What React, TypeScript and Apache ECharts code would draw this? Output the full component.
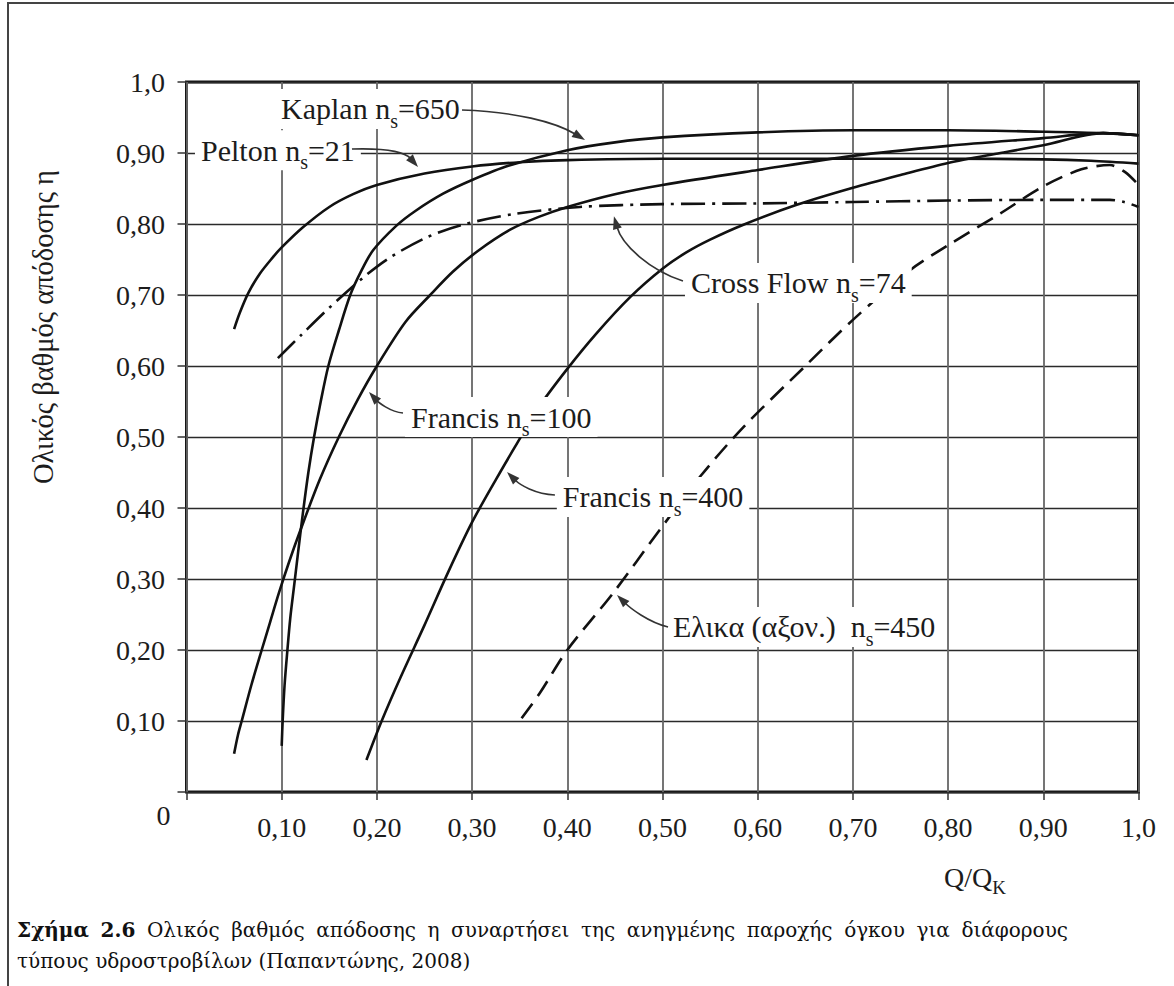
import React, { useEffect, useRef } from 'react';
import * as echarts from 'echarts';

// Axis ticks (Q/Qk on x, overall efficiency η on y)
const tickValues = [0, 0.1, 0.2, 0.3, 0.4, 0.5, 0.6, 0.7, 0.8, 0.9, 1.0];
const xTickLabels = ['', '0,10', '0,20', '0,30', '0,40', '0,50', '0,60', '0,70', '0,80', '0,90', '1,0'];
const yTickLabels = ['', '0,10', '0,20', '0,30', '0,40', '0,50', '0,60', '0,70', '0,80', '0,90', '1,0'];

// Efficiency curves [Q/Qk, η]
const pelton: [number, number][] = [
  [0.05, 0.652], [0.056, 0.675], [0.065, 0.703], [0.077, 0.73], [0.09, 0.752], [0.1, 0.767],
  [0.122, 0.795], [0.15, 0.824], [0.175, 0.842], [0.2, 0.855], [0.25, 0.871], [0.3, 0.881],
  [0.35, 0.887], [0.4, 0.89], [0.5, 0.892], [0.6, 0.892], [0.7, 0.892], [0.8, 0.892],
  [0.9, 0.891], [0.95, 0.889], [1.0, 0.885],
];
const kaplan: [number, number][] = [
  [0.1, 0.065], [0.101, 0.1], [0.103, 0.15], [0.106, 0.2], [0.109, 0.245], [0.113, 0.29],
  [0.117, 0.335], [0.122, 0.39], [0.128, 0.45], [0.134, 0.5], [0.141, 0.55], [0.149, 0.6],
  [0.16, 0.65], [0.172, 0.7], [0.184, 0.735], [0.196, 0.763], [0.22, 0.797], [0.24, 0.818],
  [0.27, 0.843], [0.3, 0.862], [0.338, 0.882], [0.4, 0.904], [0.45, 0.915], [0.5, 0.922],
  [0.6, 0.929], [0.7, 0.932], [0.8, 0.932], [0.9, 0.93], [0.963, 0.928], [1.0, 0.925],
];
const francis100: [number, number][] = [
  [0.05, 0.054], [0.054, 0.08], [0.058, 0.1], [0.068, 0.15], [0.079, 0.2], [0.088, 0.24],
  [0.097, 0.28], [0.108, 0.325], [0.12, 0.37], [0.14, 0.44], [0.16, 0.5], [0.18, 0.553],
  [0.2, 0.6], [0.23, 0.662], [0.256, 0.7], [0.28, 0.733], [0.306, 0.762], [0.34, 0.792],
  [0.37, 0.81], [0.4, 0.824], [0.45, 0.842], [0.5, 0.855], [0.6, 0.876], [0.7, 0.896],
  [0.8, 0.91], [0.9, 0.921], [0.963, 0.928], [1.0, 0.925],
];
const francis400: [number, number][] = [
  [0.189, 0.045], [0.205, 0.1], [0.225, 0.162], [0.25, 0.235], [0.275, 0.31], [0.3, 0.38],
  [0.325, 0.44], [0.345, 0.486], [0.37, 0.542], [0.4, 0.596], [0.43, 0.645], [0.466, 0.697],
  [0.5, 0.737], [0.525, 0.76], [0.55, 0.778], [0.585, 0.799], [0.641, 0.827], [0.7, 0.851],
  [0.75, 0.869], [0.8, 0.886], [0.855, 0.9], [0.9, 0.911], [0.963, 0.928], [1.0, 0.925],
];
const crossFlow: [number, number][] = [
  [0.096, 0.611], [0.12, 0.643], [0.15, 0.682], [0.186, 0.725], [0.214, 0.753], [0.252, 0.781],
  [0.29, 0.799], [0.344, 0.814], [0.413, 0.824], [0.5, 0.828], [0.6, 0.829], [0.7, 0.831],
  [0.8, 0.833], [0.9, 0.834], [0.97, 0.834], [0.985, 0.831], [1.0, 0.824],
];
const propeller: [number, number][] = [
  [0.352, 0.104], [0.371, 0.139], [0.4, 0.2], [0.448, 0.28], [0.497, 0.369], [0.54, 0.445],
  [0.585, 0.514], [0.65, 0.6], [0.7, 0.665], [0.76, 0.735], [0.8, 0.77], [0.855, 0.815],
  [0.9, 0.853], [0.94, 0.877], [0.97, 0.883], [0.986, 0.873], [1.0, 0.855],
];

// Curve annotations: rich text, anchor (left edge, text middle) and arrow [start, c1, c2, tip]
const noteTexts = [
  'Kaplan n{s|s}=650',
  'Pelton n{s|s}=21',
  'Cross Flow n{s|s}=74',
  'Francis n{s|s}=100',
  'Francis n{s|s}=400',
  'Ελικα (αξον.)\u00a0 n{s|s}=450',
];
const noteAnchors: [number, number][] = [
  [0.093, 0.962], [0.0089, 0.904], [0.5236, 0.717], [0.2295, 0.528], [0.389, 0.4155], [0.5047, 0.2324],
];
const noteArrows: [number, number][][] = [
  [[0.2894, 0.9606], [0.345, 0.958], [0.387, 0.944], [0.4186, 0.9183]],
  [[0.1738, 0.9056], [0.2085, 0.907], [0.2295, 0.9014], [0.2432, 0.8803]],
  [[0.5215, 0.7197], [0.4869, 0.735], [0.4575, 0.77], [0.449, 0.811]],
  [[0.2274, 0.5338], [0.2138, 0.5352], [0.2012, 0.5493], [0.1917, 0.5634]],
  [[0.387, 0.4183], [0.366, 0.4197], [0.3503, 0.4324], [0.3367, 0.4507]],
  [[0.5058, 0.2324], [0.4848, 0.2394], [0.4659, 0.2592], [0.4522, 0.2775]],
];

const yTitle = 'Ολικός βαθμός απόδοσης η';
const captionBold = 'Σχήμα 2.6';
const captionLine1 = 'Ολικός βαθμός απόδοσης η συναρτήσει της ανηγμένης παροχής όγκου για διάφορους';
const captionLine2 = 'τύπους υδροστροβίλων (Παπαντώνης, 2008)';

const SERIF = "'Liberation Serif', serif";
const CAPTION_FAMILY = "'DejaVu Serif', serif";
const CAPTION_SIZE = 20;
const INK = '#1c1c1c';

// Canvas text measurement for laying out the justified caption line
const measureText = (() => {
  const ctx = document.createElement('canvas').getContext('2d');
  return (text: string, bold: boolean) => {
    if (!ctx) return text.length * CAPTION_SIZE * 0.55;
    ctx.font = `${bold ? 'bold ' : ''}${CAPTION_SIZE}px ${CAPTION_FAMILY}`;
    return ctx.measureText(text).width;
  };
})();

export default function App() {
  const ref = useRef<HTMLDivElement>(null);

  useEffect(() => {
    const el = ref.current;
    if (!el) return;
    const chart = echarts.init(el, undefined, { renderer: 'svg' });

    const tickText = (labels: string[]) => (v: number) => labels[Math.round(v * 10)] ?? '';

    const curve = (name: string, data: [number, number][], type: any) => ({
      type: 'line',
      name,
      data,
      symbol: 'none',
      smooth: 0.3,
      silent: true,
      z: 3,
      lineStyle: { color: '#111', width: 2.6, type, cap: 'butt' },
    });

    chart.setOption({
      animation: false,
      backgroundColor: '#fff',
      grid: {
        left: 186.5, top: 82, width: 952, height: 710,
        show: true, borderColor: '#151515', borderWidth: 3, backgroundColor: 'transparent',
      },
      xAxis: {
        type: 'value', min: tickValues[0], max: tickValues[tickValues.length - 1], interval: 0.1,
        axisLine: { show: false },
        axisTick: { show: true, length: 8, lineStyle: { color: '#333', width: 1.5 } },
        axisLabel: { margin: 21, fontSize: 28, fontFamily: SERIF, color: INK, formatter: tickText(xTickLabels) },
        splitLine: { show: true, lineStyle: { color: '#666', width: 1.8 } },
      },
      yAxis: {
        type: 'value', min: tickValues[0], max: tickValues[tickValues.length - 1], interval: 0.1,
        axisLine: { show: false },
        axisTick: { show: true, length: 9, lineStyle: { color: '#333', width: 1.5 } },
        axisLabel: { margin: 21.5, fontSize: 28, fontFamily: SERIF, color: INK, formatter: tickText(yTickLabels) },
        splitLine: { show: true, lineStyle: { color: '#2a2a2a', width: 1.4 } },
      },
      series: [
        curve('Pelton', pelton, 'solid'),
        curve('Kaplan', kaplan, 'solid'),
        curve('Francis 100', francis100, 'solid'),
        curve('Francis 400', francis400, 'solid'),
        curve('Cross Flow', crossFlow, [24, 7, 3, 7]),
        curve('Ελικα', propeller, [18, 9]),
      ],
    });

    const px = (p: [number, number]) => chart.convertToPixel({ gridIndex: 0 }, p) as number[];
    const graphics: any[] = [];

    // Figure frame (left and top edges)
    graphics.push({
      type: 'rect', silent: true, z: 0,
      shape: { x: 8, y: 3, width: 1300, height: 1300 },
      style: { fill: 'none', stroke: '#444', lineWidth: 2 },
    });

    // Y-axis title
    graphics.push({
      type: 'text', silent: true, x: 43, y: 327, rotation: Math.PI / 2,
      style: { text: yTitle, fontSize: 28.5, fontFamily: SERIF, fill: INK, align: 'center', verticalAlign: 'middle' },
    });

    // Shared origin label
    const o = px([0, 0]);
    graphics.push({
      type: 'text', silent: true, x: o[0] - 23, y: o[1] + 23,
      style: { text: '0', fontSize: 28, fontFamily: SERIF, fill: INK, align: 'center', verticalAlign: 'middle' },
    });

    // X-axis title Q/Qk
    graphics.push({
      type: 'text', silent: true, x: 944, y: 877,
      style: {
        text: 'Q/Q{k|K}', fontSize: 28, fontFamily: SERIF, fill: INK, lineHeight: 32,
        align: 'left', verticalAlign: 'middle',
        rich: { k: { fontSize: 19, fontFamily: SERIF, fill: INK, lineHeight: 19, padding: [20, 0, 0, 0] } },
      },
    });

    // Annotation labels with white knock-out behind them
    noteTexts.forEach((t, i) => {
      const p = px(noteAnchors[i]);
      graphics.push({
        type: 'text', silent: true, z: 50, x: p[0], y: p[1],
        style: {
          text: t, fontSize: 30, fontFamily: SERIF, fill: INK, lineHeight: 34,
          align: 'left', verticalAlign: 'middle',
          backgroundColor: '#fff', padding: [3, 6, 3, 6],
          rich: { s: { fontSize: 20, fontFamily: SERIF, fill: INK, lineHeight: 20, padding: [24, 0, 0, 0] } },
        },
      });
    });

    // Curved arrows pointing to the curves
    noteArrows.forEach((a) => {
      const [s, c1, c2, t] = a.map((q) => px(q as [number, number]));
      let dx = t[0] - c2[0];
      let dy = t[1] - c2[1];
      const len = Math.hypot(dx, dy) || 1;
      dx /= len; dy /= len;
      const head = 13;
      const half = 4.5;
      const bx = t[0] - dx * head;
      const by = t[1] - dy * head;
      graphics.push({
        type: 'bezierCurve', silent: true, z: 51,
        shape: { x1: s[0], y1: s[1], cpx1: c1[0], cpy1: c1[1], cpx2: c2[0], cpy2: c2[1], x2: bx + dx * 2, y2: by + dy * 2 },
        style: { stroke: '#333', lineWidth: 1.6, fill: 'none' },
      });
      graphics.push({
        type: 'polygon', silent: true, z: 52,
        shape: { points: [[t[0], t[1]], [bx - dy * half, by + dx * half], [bx + dy * half, by - dx * half]] },
        style: { fill: '#333', stroke: 'none' },
      });
    });

    // Caption: first line justified between the margins, second line left aligned
    const capLeft = 17;
    const capRight = 1068;
    const words = [
      ...captionBold.split(' ').map((w) => ({ w, bold: true })),
      ...captionLine1.split(' ').map((w) => ({ w, bold: false })),
    ];
    const widths = words.map((t) => measureText(t.w, t.bold));
    const total = widths.reduce((a, b) => a + b, 0);
    const gap = Math.max(CAPTION_SIZE * 0.3, (capRight - capLeft - total) / (words.length - 1));
    let cx = capLeft;
    words.forEach((t, i) => {
      graphics.push({
        type: 'text', silent: true, x: cx, y: 930,
        style: {
          text: t.w, fontSize: CAPTION_SIZE, fontFamily: CAPTION_FAMILY, fontWeight: t.bold ? 'bold' : 'normal',
          fill: '#111', align: 'left', verticalAlign: 'middle',
        },
      });
      cx += widths[i] + gap;
    });
    graphics.push({
      type: 'text', silent: true, x: capLeft, y: 961,
      style: { text: captionLine2, fontSize: CAPTION_SIZE, fontFamily: CAPTION_FAMILY, fill: '#111', align: 'left', verticalAlign: 'middle' },
    });

    chart.setOption({ graphic: graphics });

    return () => chart.dispose();
  }, []);

  return (
    <div
      ref={ref}
      style={{ position: 'absolute', left: 0, top: 0, width: 1174, height: 986, background: '#fff' }}
    />
  );
}
